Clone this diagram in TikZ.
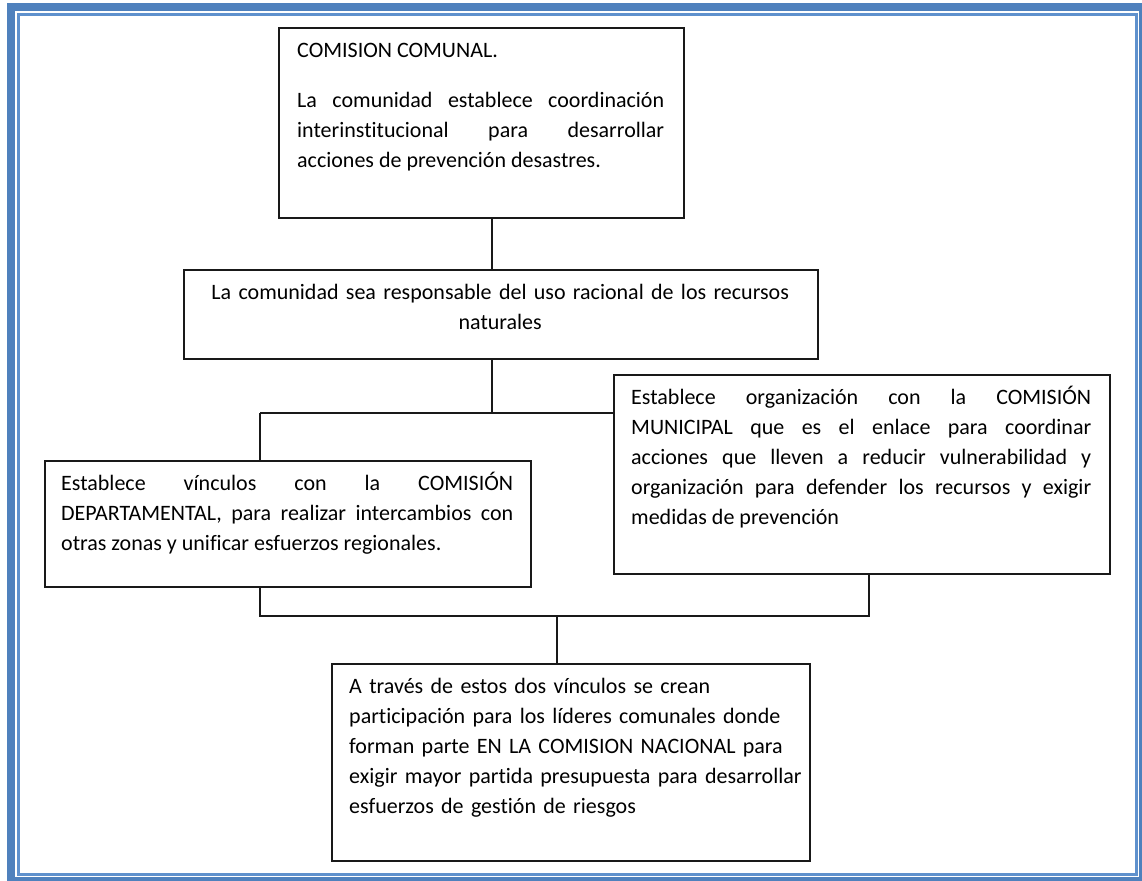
\documentclass[tikz,border=0pt]{standalone}
\usepackage{fontspec}
\setmainfont{Carlito}[Ligatures={NoCommon}]
\hyphenpenalty=10000
\exhyphenpenalty=10000
\tolerance=10000
\emergencystretch=60pt
\definecolor{frameblue}{RGB}{79,129,189}
\definecolor{framelight}{RGB}{95,145,205}
\tikzset{
  boxnode/.style={draw=black!90, line width=1.6pt, fill=none, inner sep=0pt, anchor=north west},
  txtnode/.style={inner sep=0pt, anchor=north west, font=\fontsize{22}{30}\selectfont, text=black},
  conn/.style={draw=black!90, line width=1.6pt},
}
\newcommand{\fst}{\rule{0pt}{30pt}}
\begin{document}
\begin{tikzpicture}[x=1pt,y=-1pt]
\useasboundingbox (0,0) rectangle (1142,880);
% page frame
\draw[frameblue, line width=8pt] (11,7) rectangle (1143,881);
\draw[framelight, line width=3pt] (18.5,14.5) rectangle (1136,874);

% boxes
\node[boxnode, minimum width=405, minimum height=190] (b1) at (278,27) {};
\node[boxnode, minimum width=634, minimum height=89] (b2) at (183,269) {};
\node[boxnode, minimum width=486, minimum height=126] (b3) at (44,460) {};
\node[boxnode, minimum width=496, minimum height=199] (b4) at (613,374) {};
\node[boxnode, minimum width=478, minimum height=197] (b5) at (331,663) {};

% texts
\node[txtnode, text width=367, align=justify] (t1) at ([xshift=19pt]b1.north west)
  {\fst COMISION COMUNAL.\par\vspace{20pt}La comunidad establece coordinación\linebreak interinstitucional para desarrollar\linebreak acciones de prevención desastres.};
\node[txtnode, text width=598, align=center] (t2) at ([xshift=18pt]b2.north west)
  {\fst La comunidad sea responsable del uso racional de los recursos\\naturales};
\node[txtnode, text width=452, align=justify] (t3) at ([xshift=17pt]b3.north west)
  {\fst Establece vínculos con la COMISIÓN\linebreak DEPARTAMENTAL, para realizar intercambios con\linebreak otras zonas y unificar esfuerzos regionales.};
\node[txtnode, text width=460, align=justify] (t4) at ([xshift=18pt]b4.north west)
  {\fst Establece organización con la COMISIÓN\linebreak MUNICIPAL que es el enlace para coordinar\linebreak acciones que lleven a reducir vulnerabilidad y\linebreak organización para defender los recursos y exigir\linebreak medidas de prevención};
\node[txtnode, text width=470, align=left] (t5) at ([xshift=18pt]b5.north west)
  {\fst A través de estos dos vínculos se crean\\participación para los líderes comunales donde\\forman parte EN LA COMISION NACIONAL para\\exigir mayor partida presupuesta para desarrollar\\esfuerzos de gestión de riesgos};

% junction coordinates
\coordinate (ja) at (492,413);
\coordinate (jb) at (260,413);
\coordinate (jc) at (260,616);
\coordinate (jd) at (869,616);
\coordinate (je) at (557,616);

% connectors
\draw[conn] (b1.south -| ja) -- (b2.north -| ja);
\draw[conn] (b2.south -| ja) -- (ja);
\draw[conn] (jb) -- (jb -| b4.west);
\draw[conn] (jb) -- (jb |- b3.north);
\draw[conn] (jc |- b3.south) -- (jc) -- (jd) -- (jd |- b4.south);
\draw[conn] (je) -- (je |- b5.north);
\end{tikzpicture}
\end{document}
